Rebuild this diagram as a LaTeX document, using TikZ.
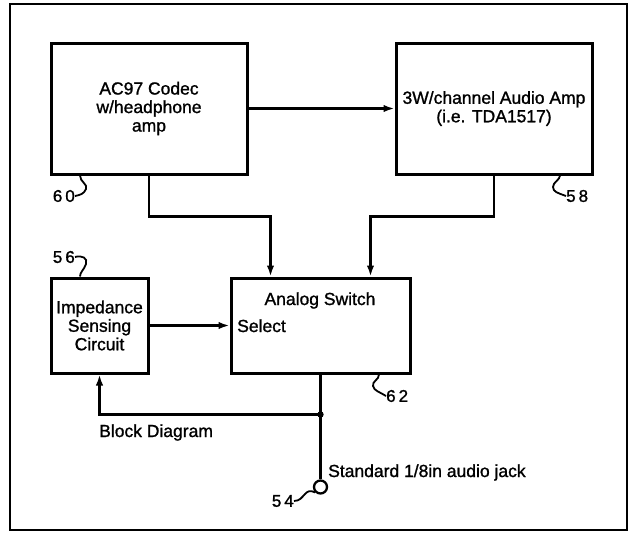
\documentclass[tikz,border=0pt]{standalone}
\usepackage{fontspec}
\setmainfont[FakeBold=1.2]{Liberation Sans}
\usetikzlibrary{arrows.meta}
\begin{document}
\begin{tikzpicture}[x=1pt,y=-1pt,
  blk/.style={draw,line width=3pt,inner sep=0pt,align=center,font=\fontsize{17.5}{18.5}\selectfont},
  conn/.style={line width=2.3pt},
  arr/.style={conn,-{Latex[length=11pt,width=7.5pt]}},
  lbl/.style={font=\fontsize{17}{17}\selectfont,inner sep=0pt},
  txt/.style={font=\fontsize{17.5}{18.5}\selectfont,inner sep=0pt},
  squig/.style={line width=1.8pt}]
\useasboundingbox (0,0) rectangle (629,533);
\draw[line width=2.6pt] (10,4) rectangle (627,530);

\node[blk,minimum width=196pt,minimum height=131pt] (codec) at (149,108.5) {AC97 Codec\\w/headphone\\amp};
\node[blk,minimum width=196pt,minimum height=131pt] (amp) at (494,108.5) {3W/channel Audio Amp\\(i.e. TDA1517)};
\node[blk,minimum width=97pt,minimum height=95pt] (imp) at (99.5,325.5) {Impedance\\Sensing\\Circuit};
\node[blk,minimum width=179pt,minimum height=95pt] (sw) at (320.5,325.5) {};
\node[txt,anchor=base] (swt) at (320,305) {Analog Switch};
\node[txt,anchor=base west] (sel) at (237,332) {Select};
\node[circle,draw,line width=2.3pt,minimum size=13pt,inner sep=0pt] (jack) at (320.5,487) {};

\draw[arr] (codec.east) -- (amp.west);
\draw[arr] (codec.south) -- ++(0,41) -| ([xshift=-50pt]sw.north);
\draw[arr] (amp.south) -- ++(0,41) -| ([xshift=50pt]sw.north);
\draw[arr] (imp.east) -- (sw.west);
\path (sw.south) ++(0,40) coordinate (j);
\draw[conn] (sw.south) -- (jack.north);
\fill (j) circle (3.2pt);
\draw[arr] (j) -| (imp.south);

\node[txt,anchor=base west] (bd) at (99,437) {Block Diagram};
\node[txt,anchor=base west] (sj) at (328,477) {Standard 1/8in audio jack};

\node[lbl,anchor=east] (l60) at (75,196) {6\kern3pt0};
\node[lbl,anchor=west] (l58) at (566,196) {5\kern3pt8};
\node[lbl,anchor=east] (l56) at (75,257) {5\kern3pt6};
\node[lbl,anchor=west] (l62) at (386,396) {6\kern3pt2};
\node[lbl,anchor=east] (l54) at (294,501) {5\kern3pt4};

\draw[squig] ([xshift=-69pt]codec.south) .. controls (80,182) and (88,184) .. (86,189) .. controls (84,194) and (80,195) .. (l60.east);
\draw[squig] ([xshift=66pt]amp.south) .. controls (560,180) and (553,182) .. (553,187) .. controls (553,192) and (558,193) .. (l58.west);
\draw[squig] (l56.east) .. controls (82,255) and (88,258) .. (86,264) .. controls (84,270) and (80,272) .. ([xshift=-19.5pt]imp.north);
\draw[squig] ([xshift=58.5pt]sw.south) .. controls (379,380) and (372,381) .. (373,386) .. controls (374,391) and (380,392) .. (l62.west);
\draw[squig] (l54.east) .. controls (300,501) and (302,497) .. (305,494) .. controls (308,491) and (310,490) .. (jack.south west);
\end{tikzpicture}
\end{document}
